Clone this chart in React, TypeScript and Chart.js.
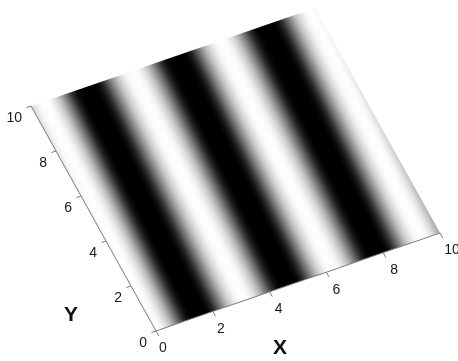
import React, { useEffect, useRef } from "react";
import { Chart, registerables } from "chart.js";

Chart.register(...registerables);

// ---- data ----
const xTickValues = [0, 2, 4, 6, 8, 10];
const yTickValues = [0, 2, 4, 6, 8, 10];
const xTitle = "X";
const yTitle = "Y";
// stripe coordinate u = x - stripeTiltPerY * y
const darkStripeCenters = [-1.6, 1.5, 4.66, 7.8, 10.9];
const brightStripeCenters = [0.0, 3.1, 6.22, 9.36];
const stripeTiltPerY = 0.045;
// grey level from a dark centre (0) to the next bright centre (1)
const shapeFrac = [0, 0.15, 0.25, 0.35, 0.45, 0.55, 0.65, 0.75, 0.85, 0.93, 1];
const shapeGray = [0, 0, 12, 45, 95, 145, 190, 222, 244, 252, 254];

// ---- layout of the oblique view ----
const ORIGIN = { x: 156, y: 331 };
const X_AXIS_VEC = { x: 284, y: -98 };
const Y_AXIS_VEC = { x: -125, y: -225 };
const FONT = "'Liberation Sans', Arial, sans-serif";

function buildStops() {
  const ext: { u: number; dark: boolean }[] = [];
  darkStripeCenters.forEach((u) => ext.push({ u, dark: true }));
  brightStripeCenters.forEach((u) => ext.push({ u, dark: false }));
  ext.sort((p, q) => p.u - q.u);
  const stops: { u: number; g: number }[] = [];
  for (let i = 0; i < ext.length - 1; i++) {
    const p = ext[i];
    const q = ext[i + 1];
    for (let k = 0; k < shapeFrac.length; k++) {
      if (i > 0 && k === 0) continue;
      const f = p.dark ? shapeFrac[k] : 1 - shapeFrac[shapeFrac.length - 1 - k];
      const g = p.dark ? shapeGray[k] : shapeGray[shapeFrac.length - 1 - k];
      stops.push({ u: p.u + (q.u - p.u) * f, g });
    }
  }
  return { stops, umin: ext[0].u, umax: ext[ext.length - 1].u };
}

const obliquePlugin = {
  id: "obliqueSurface",
  afterDraw(chart: any) {
    const { ctx, chartArea: ca, scales } = chart;
    const xs = scales.x;
    const ys = scales.y;
    const w = ca.right - ca.left;
    const h = ca.bottom - ca.top;
    const a = X_AXIS_VEC.x / w;
    const b = X_AXIS_VEC.y / w;
    const c = -Y_AXIS_VEC.x / h;
    const d = -Y_AXIS_VEC.y / h;
    const e = ORIGIN.x - a * ca.left - c * ca.bottom;
    const f = ORIGIN.y - b * ca.left - d * ca.bottom;
    const P = (xv: number, yv: number) => {
      const px = xs.getPixelForValue(xv);
      const py = ys.getPixelForValue(yv);
      return { x: a * px + c * py + e, y: b * px + d * py + f };
    };

    // surface
    const { stops, umin, umax } = buildStops();
    const kx = xs.getPixelForValue(1) - xs.getPixelForValue(0);
    const ky = ys.getPixelForValue(0) - ys.getPixelForValue(1);
    const gx = 1 / kx;
    const gy = stripeTiltPerY / ky;
    const g2 = gx * gx + gy * gy;
    const p0x = xs.getPixelForValue(umin);
    const p0y = ys.getPixelForValue(0);
    const span = umax - umin;
    const p1x = p0x + (span * gx) / g2;
    const p1y = p0y + (span * gy) / g2;

    ctx.save();
    ctx.transform(a, b, c, d, e, f);
    const grad = ctx.createLinearGradient(p0x, p0y, p1x, p1y);
    stops.forEach((s) => {
      const t = Math.min(1, Math.max(0, (s.u - umin) / span));
      grad.addColorStop(t, `rgb(${s.g},${s.g},${s.g})`);
    });
    ctx.fillStyle = grad;
    const x0 = xs.getPixelForValue(0);
    const x1 = xs.getPixelForValue(10);
    const y0 = ys.getPixelForValue(0);
    const y1 = ys.getPixelForValue(10);
    ctx.fillRect(x0, y1, x1 - x0, y0 - y1);
    ctx.restore();

    // axes
    ctx.save();
    ctx.strokeStyle = "#7a7a7a";
    ctx.lineWidth = 1;
    const o = P(0, 0);
    const xe = P(10, 0);
    const ye = P(0, 10);
    ctx.beginPath();
    ctx.moveTo(o.x, o.y);
    ctx.lineTo(xe.x, xe.y);
    ctx.moveTo(o.x, o.y);
    ctx.lineTo(ye.x, ye.y);
    xTickValues.forEach((v) => {
      const s = P(v, 0);
      const t = P(v, -0.22);
      ctx.moveTo(s.x, s.y);
      ctx.lineTo(t.x, t.y);
    });
    yTickValues.forEach((v) => {
      const s = P(0, v);
      const t = P(-0.16, v);
      ctx.moveTo(s.x, s.y);
      ctx.lineTo(t.x, t.y);
    });
    ctx.stroke();

    ctx.fillStyle = "#1a1a1a";
    ctx.font = `14px ${FONT}`;
    ctx.textBaseline = "middle";
    ctx.textAlign = "center";
    xTickValues.forEach((v) => {
      const s = P(v, 0);
      ctx.fillText(String(v), s.x + 7 + v * 0.5, s.y + 17.5);
    });
    ctx.textAlign = "right";
    yTickValues.forEach((v) => {
      const s = P(0, v);
      ctx.fillText(String(v), s.x - 9, s.y + 12);
    });

    ctx.fillStyle = "#111";
    ctx.font = `bold 21px ${FONT}`;
    ctx.textAlign = "center";
    ctx.fillText(xTitle, o.x + 124, o.y + 17);
    ctx.fillText(yTitle, o.x - 85, o.y - 16);
    ctx.restore();
  },
};

export default function App() {
  const ref = useRef<HTMLCanvasElement | null>(null);
  useEffect(() => {
    if (!ref.current) return;
    const chart = new Chart(ref.current, {
      type: "scatter",
      data: { datasets: [{ data: [], showLine: false }] },
      options: {
        animation: false,
        responsive: false,
        devicePixelRatio: 1,
        layout: { padding: { left: 80, right: 80, top: 50, bottom: 50 } },
        plugins: { legend: { display: false }, tooltip: { enabled: false } },
        scales: {
          x: { type: "linear", min: 0, max: 10, display: false },
          y: { type: "linear", min: 0, max: 10, display: false },
        },
      },
      plugins: [obliquePlugin],
    });
    return () => chart.destroy();
  }, []);
  return (
    <div style={{ position: "fixed", left: 0, top: 0, width: 458, height: 361, background: "#fff" }}>
      <canvas ref={ref} width={458} height={361} />
    </div>
  );
}
